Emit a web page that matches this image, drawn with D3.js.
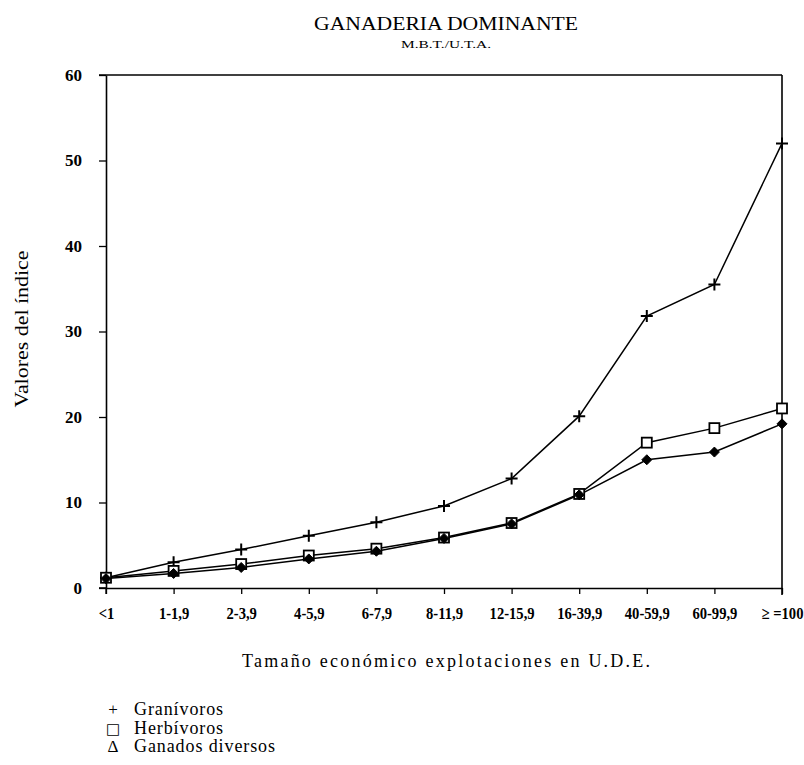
<!DOCTYPE html>
<html>
<head>
<meta charset="utf-8">
<script src="https://cdn.jsdelivr.net/npm/d3@7"></script>
<style>
  body { margin: 0; background: #fff; }
  svg { display: block; }
</style>
</head>
<body>
<svg id="chart" width="804" height="765"></svg>
<script>
const categories = ["<1", "1-1,9", "2-3,9", "4-5,9", "6-7,9", "8-11,9", "12-15,9", "16-39,9", "40-59,9", "60-99,9", "\u2265 =100"];
const granivoros = [1.2, 3.0, 4.5, 6.1, 7.7, 9.6, 12.8, 20.1, 31.8, 35.5, 52.0];
const herbivoros = [1.2, 2.0, 2.8, 3.8, 4.6, 5.9, 7.6, 11.0, 17.0, 18.7, 21.0];
const diversos   = [1.1, 1.7, 2.4, 3.4, 4.3, 5.8, 7.5, 10.9, 15.0, 15.9, 19.2];
const yTicks = [0, 10, 20, 30, 40, 50, 60];
const legendLabels = ["Granívoros", "Herbívoros", "Ganados diversos"];

const svg = d3.select("#chart");
const serif = "'Liberation Serif', 'Times New Roman', serif";

const x = d3.scalePoint().domain(categories).range([106, 782]);
const y = d3.scaleLinear().domain([0, 60]).range([588, 75]);

// Title
svg.append("text").attr("x", 446).attr("y", 30).attr("text-anchor", "middle")
  .attr("font-family", serif).attr("font-size", 18)
  .attr("textLength", 264).attr("lengthAdjust", "spacingAndGlyphs")
  .text("GANADERIA DOMINANTE");
svg.append("text").attr("x", 446).attr("y", 48).attr("text-anchor", "middle")
  .attr("font-family", serif).attr("font-size", 11)
  .attr("textLength", 90).attr("lengthAdjust", "spacingAndGlyphs")
  .text("M.B.T./U.T.A.");

// Frame: top and right border
const xLast = x(categories[categories.length - 1]);
svg.append("line").attr("x1", 99).attr("x2", xLast)
  .attr("y1", y(60)).attr("y2", y(60)).attr("stroke", "#000").attr("stroke-width", 1.6);
svg.append("line").attr("x1", xLast).attr("x2", xLast)
  .attr("y1", y(60)).attr("y2", y(0) + 7).attr("stroke", "#000").attr("stroke-width", 1.6);

// Y axis
const yAxis = svg.append("g").attr("transform", `translate(${x(categories[0])},0)`)
  .call(d3.axisLeft(y).tickValues(yTicks).tickSize(7).tickSizeOuter(0).tickFormat(d3.format("d")));
yAxis.select(".domain").attr("stroke-width", 1.6);
yAxis.selectAll(".tick line").attr("stroke-width", 1.3);
yAxis.selectAll(".tick text").attr("x", -24).attr("font-family", serif).attr("font-size", 17)
  .attr("font-weight", "bold").attr("fill", "#000");

// X axis
const xAxis = svg.append("g").attr("transform", `translate(0,${y(0)})`)
  .call(d3.axisBottom(x).tickSize(6).tickSizeOuter(0));
xAxis.select(".domain").attr("stroke-width", 1.6);
xAxis.selectAll(".tick line").attr("stroke-width", 1.3);
xAxis.selectAll(".tick text").attr("y", 19).attr("font-family", serif).attr("font-size", 17)
  .attr("font-weight", "bold").attr("fill", "#000").attr("transform", "scale(0.86,1)");
svg.append("line").attr("x1", 99).attr("x2", x(categories[0])).attr("y1", y(0)).attr("y2", y(0))
  .attr("stroke", "#000").attr("stroke-width", 1.6);
svg.append("line").attr("x1", x(categories[0])).attr("x2", x(categories[0])).attr("y1", y(0)).attr("y2", y(0) + 6)
  .attr("stroke", "#000").attr("stroke-width", 1.3);

// Axis titles
svg.append("text").attr("transform", "translate(28,329) rotate(-90)").attr("text-anchor", "middle")
  .attr("font-family", serif).attr("font-size", 18)
  .attr("textLength", 157).attr("lengthAdjust", "spacingAndGlyphs")
  .text("Valores del índice");
svg.append("text").attr("x", 446).attr("y", 667).attr("text-anchor", "middle")
  .attr("font-family", serif).attr("font-size", 18)
  .attr("textLength", 408).attr("lengthAdjust", "spacing")
  .text("Tamaño económico explotaciones en U.D.E.");

// Lines
const line = d3.line().x((d, i) => x(categories[i])).y(d => y(d));
[granivoros, herbivoros, diversos].forEach(s => {
  svg.append("path").datum(s).attr("d", line).attr("fill", "none")
    .attr("stroke", "#000").attr("stroke-width", 1.5);
});

// Markers
const pts = (s) => s.map((v, i) => ({ cx: x(categories[i]), cy: y(v) }));
svg.append("g").selectAll("path").data(pts(granivoros)).join("path")
  .attr("d", d => `M${d.cx - 6},${d.cy}H${d.cx + 6}M${d.cx},${d.cy - 6}V${d.cy + 6}`)
  .attr("stroke", "#000").attr("stroke-width", 2);
svg.append("g").selectAll("rect").data(pts(herbivoros)).join("rect")
  .attr("x", d => d.cx - 5).attr("y", d => d.cy - 5).attr("width", 10).attr("height", 10)
  .attr("fill", "#fff").attr("stroke", "#000").attr("stroke-width", 1.8);
svg.append("g").selectAll("path").data(pts(diversos)).join("path")
  .attr("d", d => `M${d.cx},${d.cy - 5}L${d.cx + 5},${d.cy}L${d.cx},${d.cy + 5}L${d.cx - 5},${d.cy}Z`)
  .attr("fill", "#000").attr("stroke", "#000").attr("stroke-width", 1);

// Legend
const legendSymbols = ["+", "\u25A1", "\u0394"];
const lg = svg.append("g");
legendLabels.forEach((lab, i) => {
  const yy = 715 + i * 18.5;
  lg.append("text").attr("x", 113).attr("y", yy).attr("text-anchor", "middle")
    .attr("font-family", i === 1 ? "'DejaVu Sans', sans-serif" : serif).attr("font-size", i === 1 ? 15 : 17)
    .text(legendSymbols[i]);
  lg.append("text").attr("x", 134).attr("y", yy)
    .attr("font-family", serif).attr("font-size", 18).attr("letter-spacing", 0.9).text(lab);
});
</script>
</body>
</html>
